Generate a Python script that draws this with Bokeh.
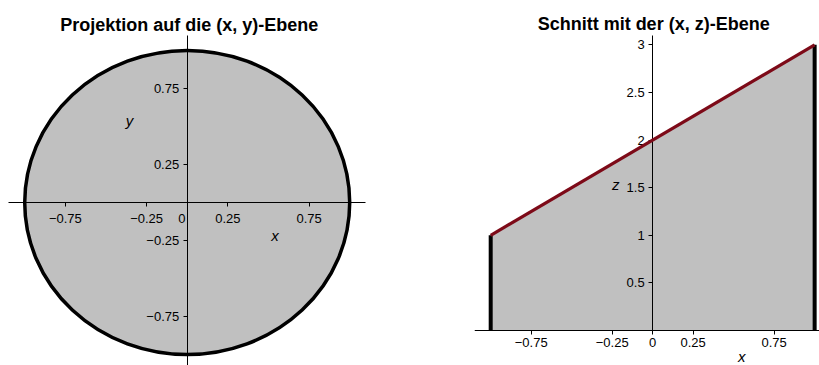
from bokeh.plotting import figure
from bokeh.layouts import row
from bokeh.models import Range1d, LinearAxis, FixedTicker, Label
from bokeh.embed import file_html
from bokeh.resources import INLINE

FONT = "Liberation Sans"

# ---- data ----
left_title = "Projektion auf die (x, y)-Ebene"
right_title = "Schnitt mit der (x, z)-Ebene"
x_ticks = [-0.75, -0.25, 0, 0.25, 0.75]
y_ticks = [-0.75, -0.25, 0.25, 0.75]
z_ticks = [0.5, 1, 1.5, 2, 2.5, 3]
disk_center_x = [0.0]
disk_center_y = [0.0]
disk_radius = [1.0]
section_x = [-1.0, 1.0]
section_z = [1.0, 3.0]
section_base = [0.0, 0.0]

GRAY = "#c0c0c0"
RED = "#7d0a18"


def fmt(v):
    s = f"{abs(v):g}"
    return "\u2212" + s if v < 0 else s


def make_axis(ticks, bounds, overrides=None, standoff=4):
    ov = {v: fmt(v) for v in ticks}
    if overrides:
        ov.update(overrides)
    return LinearAxis(
        fixed_location=0,
        ticker=FixedTicker(ticks=ticks),
        bounds=bounds,
        major_tick_out=4, major_tick_in=0,
        minor_tick_out=0, minor_tick_in=0,
        major_label_standoff=standoff,
        major_label_text_font=FONT,
        major_label_text_font_size="13px",
        major_label_text_color="black",
        major_label_overrides=ov,
        axis_line_color="black",
        axis_line_width=1,
        major_tick_line_color="black",
    )


def txt(p, x, y, text, size="15px", style="italic"):
    p.add_layout(Label(x=x, y=y, text=text, text_align="center",
                       text_baseline="middle", text_font=FONT,
                       text_font_style=style, text_font_size=size,
                       text_color="black"))


# ---- left: projection ----
p1 = figure(width=474, height=365, x_range=Range1d(-1.149, 1.768),
            y_range=Range1d(-1.072, 1.329), output_backend="svg",
            toolbar_location=None, x_axis_type=None, y_axis_type=None,
            min_border=0)
p1.outline_line_color = None
p1.ellipse(x=disk_center_x, y=disk_center_y,
           width=[2 * r for r in disk_radius], height=[2 * r for r in disk_radius],
           fill_color=GRAY, line_color="black", line_width=3.5)
p1.add_layout(make_axis(x_ticks, (-1.1, 1.1), {0: "0\u00a0\u00a0\u00a0"}), "below")
p1.add_layout(make_axis(y_ticks, (-1.1, 1.1)), "left")
txt(p1, 0.012, 1.171, left_title, size="18px", style="bold")
txt(p1, -0.355, 0.54, "y")
txt(p1, 0.54, -0.217, "x")

# ---- right: section ----
p2 = figure(width=345, height=365, x_range=Range1d(-1.1, 1.03),
            y_range=Range1d(-0.368, 3.466), output_backend="svg",
            toolbar_location=None, x_axis_type=None, y_axis_type=None,
            min_border=0)
p2.outline_line_color = None
p2.varea(x=section_x, y1=section_base, y2=section_z, fill_color=GRAY)
p2.segment(x0=section_x, y0=section_base, x1=section_x, y1=section_z,
           line_color="black", line_width=4)
p2.line(section_x, section_z, line_color=RED, line_width=3.2, level="overlay")
p2.add_layout(make_axis(x_ticks, (-1.1, 1.2)), "below")
p2.add_layout(make_axis(z_ticks, (0, 3.1)), "left")
txt(p2, 0.006, 3.214, right_title, size="18px", style="bold")
txt(p2, -0.228, 1.53, "z")
txt(p2, 0.55, -0.27, "x")

layout = row(p1, p2)
open("out.html", "w").write(file_html(layout, INLINE))
